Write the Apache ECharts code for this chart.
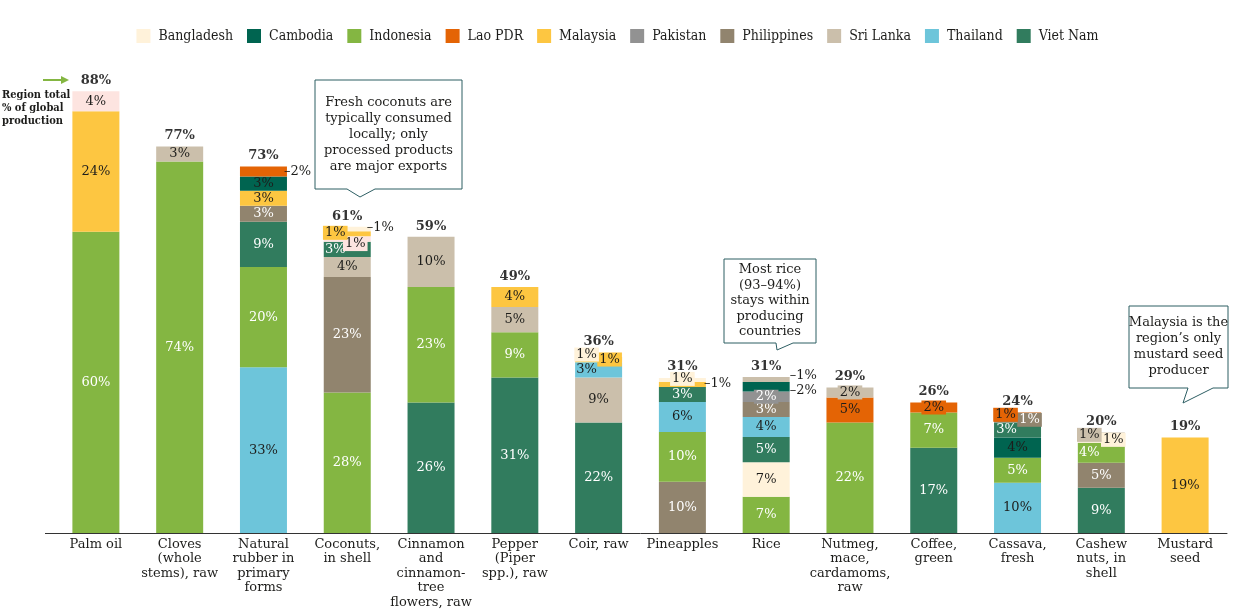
<!DOCTYPE html>
<html>
<head>
<meta charset="utf-8">
<script src="https://cdn.jsdelivr.net/npm/echarts@6/dist/echarts.min.js"></script>
<style>
html, body { margin: 0; padding: 0; background: #fff; }
#chart { width: 1235px; height: 612px; }
</style>
</head>
<body>
<div id="chart"></div>
<script>
// categories (x axis)
var categories = ['Palm oil', 'Cloves\n(whole\nstems), raw', 'Natural\nrubber in\nprimary\nforms',
	'Coconuts,\nin shell', 'Cinnamon\nand\ncinnamon-\ntree\nflowers, raw', 'Pepper\n(Piper\nspp.), raw',
	'Coir, raw', 'Pineapples', 'Rice', 'Nutmeg,\nmace,\ncardamoms,\nraw', 'Coffee,\ngreen',
	'Cassava,\nfresh', 'Cashew\nnuts, in\nshell', 'Mustard\nseed'];

var countries = ['Bangladesh', 'Cambodia', 'Indonesia', 'Lao PDR', 'Malaysia', 'Pakistan',
	'Philippines', 'Sri Lanka', 'Thailand', 'Viet Nam'];

// % of global production, one value per category
var bangladesh  = [0, 0, 0, 0.9, 0, 0, 0.9, 0.8, 6.9, 0, 0, 0, 1.1, 0];
var cambodia    = [0, 0, 2.8, 0, 0, 0, 0, 0, 1.9, 0, 0, 4, 0, 0];
var indonesia   = [60, 74, 20, 28, 23, 9, 0, 9.9, 7.2, 22, 7, 5, 4, 0];
var laoPdr      = [0, 0, 2, 0, 0, 0, 0, 0, 0, 5, 2, 0.9, 0, 0];
var malaysia    = [24, 0, 3, 1, 0, 4, 1.1, 1, 0, 0, 0, 0, 0, 19];
var pakistan    = [0, 0, 0, 0, 0, 0, 0, 0, 2.1, 0, 0, 0, 0, 0];
var philippines = [0, 0, 3.2, 23, 0, 0, 0, 10.2, 3, 0, 0, 1.1, 5, 0];
var sriLanka    = [0, 3, 0, 4, 10, 5, 9, 0, 1, 2, 0, 0, 0.9, 0];
var thailand    = [0, 0, 33, 0, 0, 0, 3, 6, 4, 0, 0, 10, 0, 0];
var vietNam     = [0, 0, 9, 3, 26, 31, 22, 3, 5, 0, 17, 3, 9, 0];
var otherRegion = [4, 0, 0, 1.1, 0, 0, 0, 0, 0, 0, 0, 0, 0, 0];

// region total, % of global production
var totals = [88, 77, 73, 61, 59, 49, 36, 31, 31, 29, 26, 24, 20, 19];

var seriesValues = {
	'Bangladesh': bangladesh, 'Cambodia': cambodia, 'Indonesia': indonesia, 'Lao PDR': laoPdr,
	'Malaysia': malaysia, 'Pakistan': pakistan, 'Philippines': philippines, 'Sri Lanka': sriLanka,
	'Thailand': thailand, 'Viet Nam': vietNam, 'Other': otherRegion
};

var colors = {
	'Bangladesh': '#FFF2DA', 'Cambodia': '#006450', 'Indonesia': '#84B642', 'Lao PDR': '#E46405',
	'Malaysia': '#FDC641', 'Pakistan': '#929292', 'Philippines': '#91846E', 'Sri Lanka': '#CBBFAB',
	'Thailand': '#6DC5DA', 'Viet Nam': '#317C5E', 'Other': '#FDE4E0'
};
var whiteText = ['Indonesia', 'Viet Nam', 'Philippines', 'Pakistan'];

// label placement for the thin segments (key: category index | country)
var labelTweaks = {
	'2|Lao PDR': { note: true, offset: [-3, 0] },
	'3|Viet Nam': { offset: [-12, 0] },
	'3|Other': { box: true, offset: [8, 5] },
	'3|Malaysia': { box: true, offset: [-12, -1] },
	'3|Bangladesh': { note: true, offset: [-4, -1] },
	'6|Thailand': { offset: [-12, 0] },
	'6|Malaysia': { box: true, offset: [11, 0] },
	'6|Bangladesh': { box: true, offset: [-12, 0] },
	'7|Malaysia': { note: true, offset: [-2, -1] },
	'7|Bangladesh': { box: true, offset: [0, -1] },
	'8|Pakistan': { box: true, offset: [0, 0] },
	'8|Cambodia': { note: true, offset: [0, 4] },
	'8|Sri Lanka': { note: true, offset: [0, -4] },
	'9|Sri Lanka': { box: true, offset: [0, 0] },
	'10|Lao PDR': { box: true, offset: [0, 0] },
	'11|Viet Nam': { offset: [-11, 0] },
	'11|Philippines': { box: true, offset: [12, 0] },
	'11|Lao PDR': { box: true, offset: [-12, 0] },
	'12|Indonesia': { offset: [-12, 0] },
	'12|Bangladesh': { box: true, offset: [12, 0] },
	'12|Sri Lanka': { box: true, offset: [-12, 0] }
};

var serif = "'DejaVu Serif', serif";
var condensed = "'DejaVu Serif Condensed', 'Liberation Serif', serif";
var ink = '#1d1d1b';

function labelFor(ci, country, v) {
	var t = labelTweaks[ci + '|' + country] || {};
	var lab = {
		show: v >= 2.5 || !!t.box || !!t.note,
		position: 'inside',
		offset: t.offset || [0, 0],
		fontFamily: serif,
		fontSize: 13,
		color: whiteText.indexOf(country) >= 0 ? '#fff' : ink,
		formatter: (t.note ? '\u2013' : '') + Math.round(v) + '%'
	};
	if (t.box) {
		lab.backgroundColor = colors[country];
		lab.padding = [1, 2, 0, 2];
	}
	if (t.note) {
		lab.position = 'right';
		lab.distance = 0;
		lab.color = ink;
	}
	return lab;
}

// each bar stacks its countries largest first, so build one series per layer
var stacks = categories.map(function (c, ci) {
	var list = [];
	for (var name in seriesValues) {
		if (seriesValues[name][ci] > 0) list.push({ name: name, value: seriesValues[name][ci] });
	}
	list.sort(function (a, b) { return b.value - a.value; });
	return list;
});
var layers = Math.max.apply(null, stacks.map(function (s) { return s.length; }));

var series = [];
for (var k = 0; k < layers; k++) {
	series.push({
		name: 'layer' + k,
		type: 'bar',
		stack: 'all',
		barWidth: 47,
		data: stacks.map(function (s, ci) {
			var it = s[k];
			if (!it) return '-';
			return {
				value: it.value,
				name: it.name,
				itemStyle: { color: colors[it.name] },
				label: labelFor(ci, it.name, it.value)
			};
		})
	});
}
// empty series only for the legend
countries.forEach(function (name) {
	series.push({ name: name, type: 'bar', stack: 'all', barWidth: 47, data: [], itemStyle: { color: colors[name] } });
});
series.push({
	name: 'total',
	type: 'scatter',
	symbolSize: 0,
	data: totals,
	label: {
		show: true,
		position: 'top',
		distance: 4,
		fontFamily: serif,
		fontWeight: 'bold',
		fontSize: 13,
		color: '#000',
		formatter: '{c}%'
	}
});

function callout(x1, y1, x2, y2, tail, lines, lineH) {
	return [{
		type: 'polygon',
		shape: { points: [[x1, y1], [x2, y1], [x2, y2], [tail[2], y2], [tail[1], tail[3]], [tail[0], y2], [x1, y2]] },
		style: { fill: '#fff', stroke: '#2D5E63', lineWidth: 1 }
	}, {
		type: 'text',
		style: {
			x: (x1 + x2) / 2, y: (y1 + y2) / 2, text: lines.join('\n'), align: 'center', verticalAlign: 'middle',
			font: '13px ' + serif, lineHeight: lineH, fill: ink
		}
	}];
}

var graphics = [].concat(
	callout(315, 80, 462, 189, [347, 360, 375, 197],
		['Fresh coconuts are', 'typically consumed', 'locally; only', 'processed products', 'are major exports'], 16),
	callout(724, 259, 816, 343, [776, 777, 793, 350],
		['Most rice', '(93\u201394%)', 'stays within', 'producing', 'countries'], 15.5),
	callout(1129, 306, 1228, 388, [1188, 1183, 1213, 403],
		['Malaysia is the', 'region\u2019s only', 'mustard seed', 'producer'], 16),
	[{
		type: 'line',
		shape: { x1: 43, y1: 80, x2: 63, y2: 80 },
		style: { stroke: '#84B642', lineWidth: 2 }
	}, {
		type: 'polygon',
		shape: { points: [[61, 76], [69, 80], [61, 84]] },
		style: { fill: '#84B642' }
	}, {
		type: 'text',
		style: {
			x: 2, y: 89, text: 'Region total\n% of global\nproduction',
			font: 'bold 11px ' + condensed, lineHeight: 13, fill: ink
		}
	}, {
		type: 'line',
		shape: { x1: 45, y1: 533.5, x2: 55, y2: 533.5 },
		style: { stroke: '#333', lineWidth: 1 }
	}]
);

var chart = echarts.init(document.getElementById('chart'));
chart.setOption({
	animation: false,
	legend: {
		data: countries,
		top: 24,
		left: 'center',
		itemWidth: 14,
		itemHeight: 14,
		itemGap: 14,
		selectedMode: false,
		icon: 'rect',
		textStyle: { fontFamily: condensed, fontSize: 14, color: ink, padding: [0, 0, 0, 3] }
	},
	grid: { left: 54, right: 8, top: 31, bottom: 79 },
	xAxis: {
		type: 'category',
		data: categories,
		axisTick: { show: false },
		axisLine: { lineStyle: { color: '#333', width: 1 } },
		axisLabel: {
			interval: 0,
			margin: 4,
			fontFamily: serif,
			fontSize: 13,
			lineHeight: 14.5,
			color: ink,
			verticalAlign: 'top'
		}
	},
	yAxis: { type: 'value', min: 0, max: 100, show: false },
	series: series,
	graphic: graphics
});
</script>
</body>
</html>
